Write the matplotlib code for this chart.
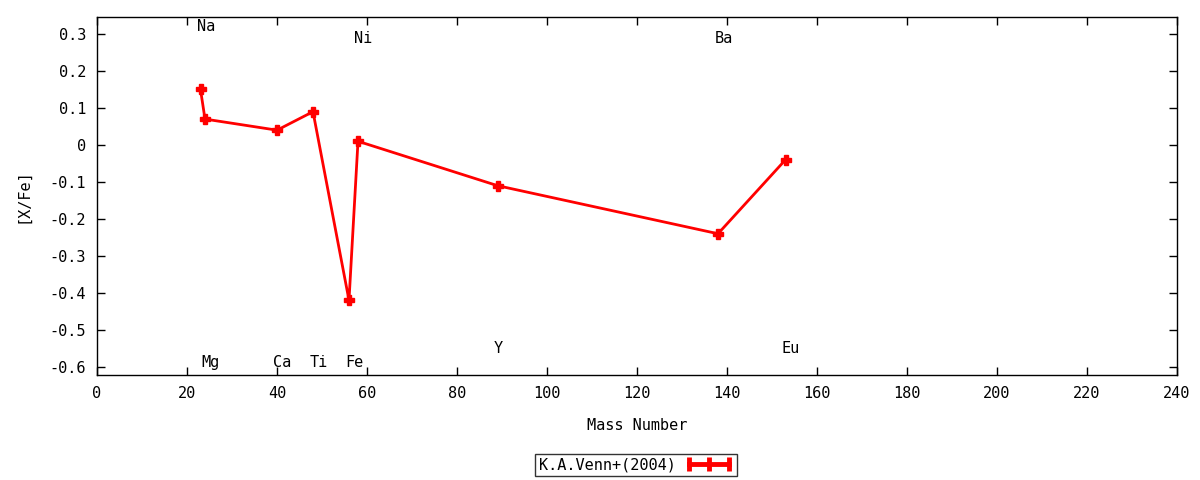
import matplotlib
matplotlib.use("Agg")
import matplotlib.pyplot as plt
from matplotlib.ticker import FuncFormatter

plt.rcParams['font.family'] = ['DejaVu Sans Mono']
plt.rcParams['font.size'] = 11

# data
elements = ['Na', 'Mg', 'Ca', 'Ti', 'Fe', 'Ni', 'Y', 'Ba', 'Eu']
mass = [23, 24, 40, 48, 56, 58, 89, 138, 153]
xfe = [0.15, 0.07, 0.04, 0.09, -0.42, 0.01, -0.11, -0.24, -0.04]
label_y = [0.319, -0.589, -0.589, -0.589, -0.589, 0.289, -0.551, 0.289, -0.551]

fig = plt.figure(figsize=(12, 4.8), dpi=100)
ax = fig.add_axes([97/1200, 1 - 375/480, 1080/1200, 358/480])

ax.plot(mass, xfe, color='red', lw=2, marker='P', ms=7.5,
        label='K.A.Venn+(2004)')

# element names, left aligned at their mass number
for el, m, ly in zip(elements, mass, label_y):
    ax.text(m - 0.8, ly, el, ha='left', va='center')

ax.set_xlim(0, 240)
ax.set_ylim(-0.622, 0.346)
ax.set_xticks(range(0, 241, 20))
ax.set_yticks([-0.6, -0.5, -0.4, -0.3, -0.2, -0.1, 0, 0.1, 0.2, 0.3])
ax.yaxis.set_major_formatter(FuncFormatter(lambda v, p: '0' if abs(v) < 1e-9 else '%.1f' % v))
ax.tick_params(direction='in', top=True, right=True, length=6, width=1, pad=8)
for s in ax.spines.values():
    s.set_linewidth(1)

ax.set_xlabel('Mass Number', labelpad=12)
ax.set_ylabel('[X/Fe]', labelpad=14)

leg = fig.legend(loc='center', bbox_to_anchor=(636/1200, 1 - 465/480),
                 markerfirst=False, numpoints=3, frameon=True, fancybox=False,
                 edgecolor='black', borderpad=0.2, handlelength=3.2,
                 handletextpad=0.6, borderaxespad=0)
leg.get_frame().set_linewidth(1)
for line in leg.get_lines():
    line.set_linewidth(3.5)
    line.set_marker('|')
    line.set_markersize(10)
    line.set_markeredgewidth(3.5)

fig.savefig('out.png', dpi=100)
